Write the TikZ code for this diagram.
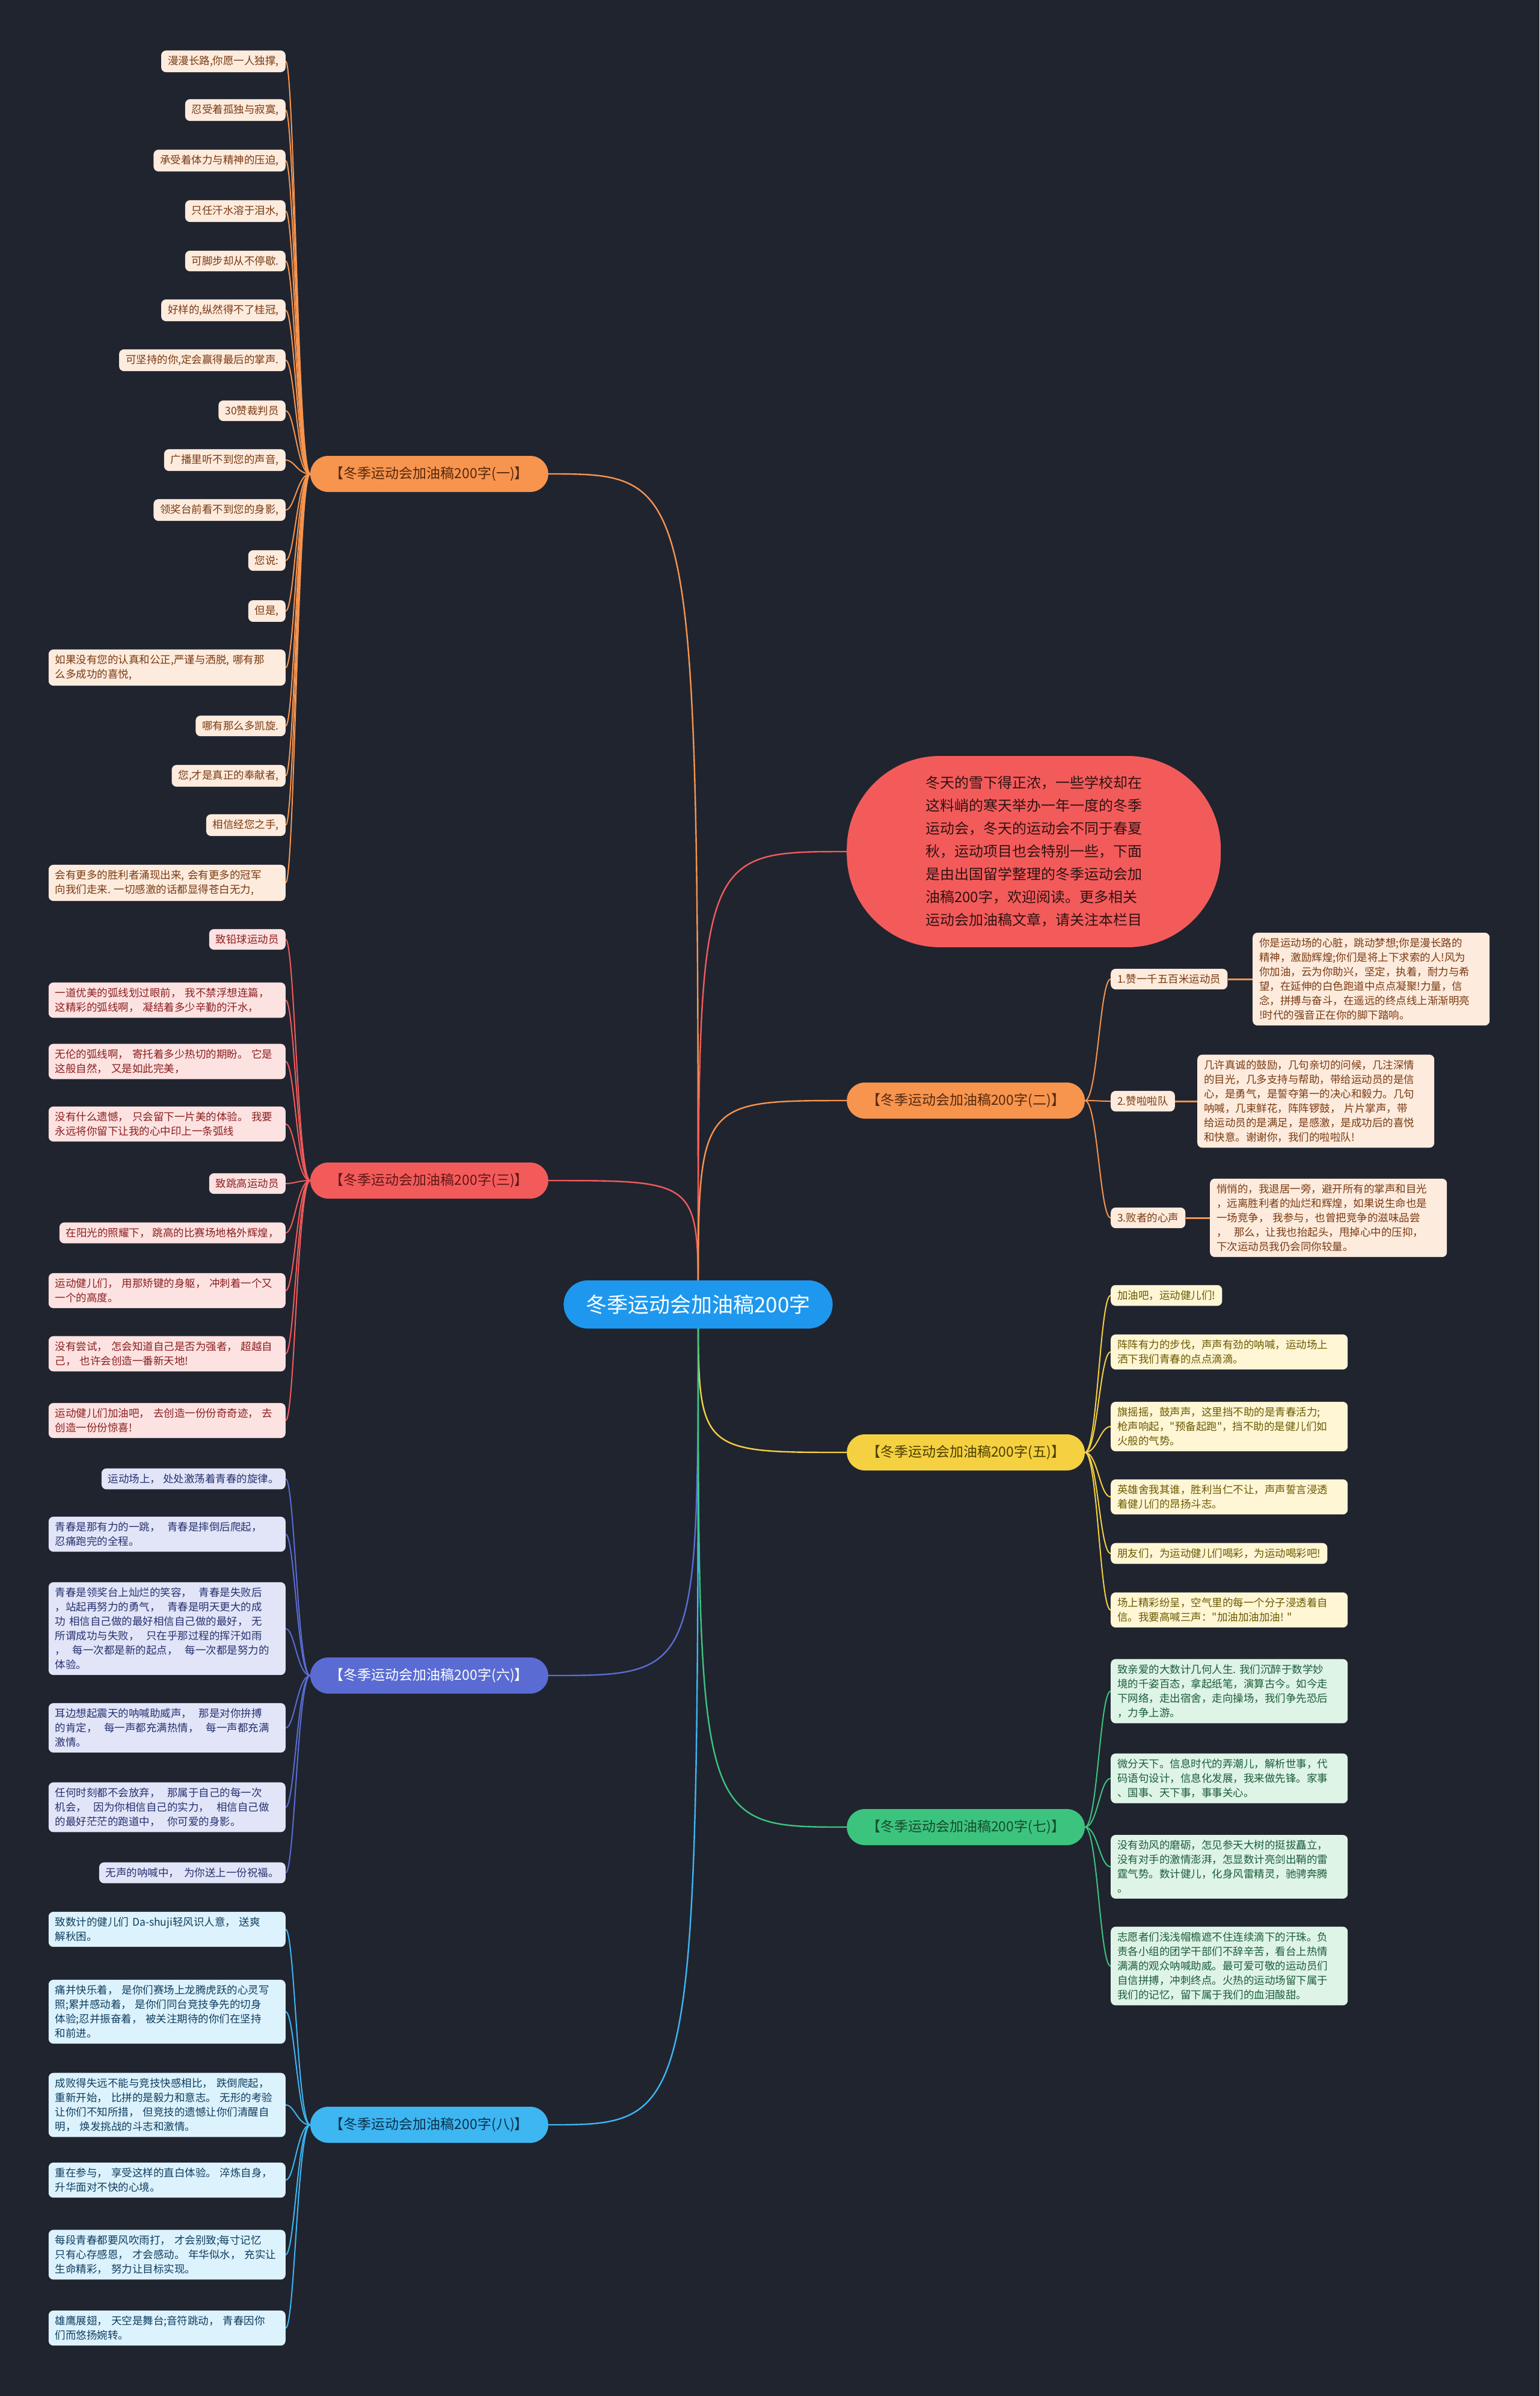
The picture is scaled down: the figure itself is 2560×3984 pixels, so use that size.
\documentclass[tikz,border=0pt]{standalone}
\usepackage{fontspec}
\newfontfamily\cjk{Noto Sans CJK SC}
\usetikzlibrary{calc}

\definecolor{fond}{HTML}{20242F}
\definecolor{bleu}{HTML}{1E98EE}
\definecolor{or}{HTML}{F7944E}\definecolor{orfond}{HTML}{FDEBDD}\definecolor{ortexte}{HTML}{7A3A12}
\definecolor{ro}{HTML}{F35B5B}\definecolor{rofond}{HTML}{FDE2E2}\definecolor{rotexte}{HTML}{8B1E1E}
\definecolor{vi}{HTML}{5A6CD3}\definecolor{vifond}{HTML}{E2E5F8}\definecolor{vitexte}{HTML}{26316F}
\definecolor{ci}{HTML}{3DB6F2}\definecolor{cifond}{HTML}{DCF2FD}\definecolor{citexte}{HTML}{0F3D5E}
\definecolor{ja}{HTML}{F5D040}\definecolor{jafond}{HTML}{FEF6D5}\definecolor{jatexte}{HTML}{6B5A00}
\definecolor{ve}{HTML}{3CC47E}\definecolor{vefond}{HTML}{DEF4E6}\definecolor{vetexte}{HTML}{1C5C3A}

\pgfdeclarelayer{arriere}
\pgfdeclarelayer{liens}
\pgfsetlayers{arriere,liens,main}

\tikzset{
	racine/.style={fill=bleu, text=white, rounded corners=40pt, minimum height=80pt, inner xsep=37pt, inner ysep=0pt, font=\cjk\fontsize{35}{40}\selectfont},
	chapeau/.style={fill=ro, text=black!80!ro, rounded corners=155pt, minimum width=622pt, minimum height=318pt, align=left, font=\cjk\fontsize{24}{38}\selectfont},
	branche/.style 2 args={fill=#1, text=#2, rounded corners=30pt, minimum height=60pt, inner xsep=33pt, inner ysep=0pt, font=\cjk\fontsize{23}{28}\selectfont},
	feuille/.style={fill=#1fond, text=#1texte, rounded corners=8pt, inner xsep=11pt, inner ysep=9pt, font=\cjk\fontsize{17.5}{24}\selectfont},
	bloc/.style={text width=372pt, align=left},
	lien/.style={draw=#1, line width=2pt},
	tige/.style={draw=#1, line width=2.4pt},
}

\begin{document}
\begin{tikzpicture}[x=1pt, y=-1pt]
	\begin{pgfonlayer}{arriere}
		\fill[fond] (0,0) rectangle (2560,3984);
	\end{pgfonlayer}
	
	% centre
	\node[racine] (root) at (1161,2169) {冬季运动会加油稿200字};
	
	% branches gauche
	\node[branche={or}{ortexte!70!black}, anchor=east] (h1) at (912,788) {【冬季运动会加油稿200字(一)】};
	\node[branche={ro}{rotexte!70!black}, anchor=east] (h3) at (912,1963) {【冬季运动会加油稿200字(三)】};
	\node[branche={vi}{white}, anchor=east] (h6) at (912,2786) {【冬季运动会加油稿200字(六)】};
	\node[branche={ci}{citexte!80!black}, anchor=east] (h8) at (912,3533) {【冬季运动会加油稿200字(八)】};
	
	% branches droite
	\node[chapeau, anchor=west] (intro) at (1408,1416) {冬天的雪下得正浓，一些学校却在\\这料峭的寒天举办一年一度的冬季\\运动会，冬天的运动会不同于春夏\\秋，运动项目也会特别一些，下面\\是由出国留学整理的冬季运动会加\\油稿200字，欢迎阅读。更多相关\\运动会加油稿文章，请关注本栏目};
	\node[branche={or}{ortexte!70!black}, anchor=west] (h2) at (1408,1830) {【冬季运动会加油稿200字(二)】};
	\node[branche={ja}{jatexte!70!black}, anchor=west] (h5) at (1408,2415) {【冬季运动会加油稿200字(五)】};
	\node[branche={ve}{vetexte!80!black}, anchor=west] (h7) at (1408,3038) {【冬季运动会加油稿200字(七)】};
	
	% feuilles (一)
	\node[feuille=or, anchor=east] (l1-1) at (475,102) {漫漫长路,你愿一人独撑,};
	\node[feuille=or, anchor=east] (l1-2) at (475,183) {忍受着孤独与寂寞,};
	\node[feuille=or, anchor=east] (l1-3) at (475,267) {承受着体力与精神的压迫,};
	\node[feuille=or, anchor=east] (l1-4) at (475,351) {只任汗水溶于泪水,};
	\node[feuille=or, anchor=east] (l1-5) at (475,434) {可脚步却从不停歇.};
	\node[feuille=or, anchor=east] (l1-6) at (475,516) {好样的,纵然得不了桂冠,};
	\node[feuille=or, anchor=east] (l1-7) at (475,599) {可坚持的你,定会赢得最后的掌声.};
	\node[feuille=or, anchor=east] (l1-8) at (475,683) {30赞裁判员};
	\node[feuille=or, anchor=east] (l1-9) at (475,765) {广播里听不到您的声音,};
	\node[feuille=or, anchor=east] (l1-10) at (475,848) {领奖台前看不到您的身影,};
	\node[feuille=or, anchor=east] (l1-11) at (475,932) {您说:};
	\node[feuille=or, anchor=east] (l1-12) at (475,1016) {但是,};
	\node[feuille=or, bloc, anchor=east] (l1-13) at (475,1110) {如果没有您的认真和公正,严谨与洒脱,~哪有那\\么多成功的喜悦,};
	\node[feuille=or, anchor=east] (l1-14) at (475,1207) {哪有那么多凯旋.};
	\node[feuille=or, anchor=east] (l1-15) at (475,1290) {您,才是真正的奉献者,};
	\node[feuille=or, anchor=east] (l1-16) at (475,1372) {相信经您之手,};
	\node[feuille=or, bloc, anchor=east] (l1-17) at (475,1468) {会有更多的胜利者涌现出来,~会有更多的冠军\\向我们走来.~一切感激的话都显得苍白无力,};
	
	% feuilles (三)
	\node[feuille=ro, anchor=east] (l3-1) at (475,1562) {致铅球运动员};
	\node[feuille=ro, bloc, anchor=east] (l3-2) at (475,1663) {一道优美的弧线划过眼前，~我不禁浮想连篇，\\这精彩的弧线啊，~凝结着多少辛勤的汗水，};
	\node[feuille=ro, bloc, anchor=east] (l3-3) at (475,1765) {无伦的弧线啊，~寄托着多少热切的期盼。~它是\\这般自然，~又是如此完美，};
	\node[feuille=ro, bloc, anchor=east] (l3-4) at (475,1869) {没有什么遗憾，~只会留下一片美的体验。~我要\\永远将你留下让我的心中印上一条弧线};
	\node[feuille=ro, anchor=east] (l3-5) at (475,1968) {致跳高运动员};
	\node[feuille=ro, anchor=east] (l3-6) at (475,2050) {在阳光的照耀下，~跳高的比赛场地格外辉煌，};
	\node[feuille=ro, bloc, anchor=east] (l3-7) at (475,2146) {运动健儿们，~用那矫键的身躯，~冲刺着一个又\\一个的高度。};
	\node[feuille=ro, bloc, anchor=east] (l3-8) at (475,2251) {没有尝试，~怎会知道自己是否为强者，~超越自\\己，~也许会创造一番新天地!};
	\node[feuille=ro, bloc, anchor=east] (l3-9) at (475,2362) {运动健儿们加油吧，~去创造一份份奇奇迹，~去\\创造一份份惊喜!};
	
	% feuilles (六)
	\node[feuille=vi, anchor=east] (l6-1) at (475,2459) {运动场上，~处处激荡着青春的旋律。};
	\node[feuille=vi, bloc, anchor=east] (l6-2) at (475,2551) {青春是那有力的一跳，~~青春是摔倒后爬起，\\忍痛跑完的全程。};
	\node[feuille=vi, bloc, anchor=east] (l6-3) at (475,2708) {青春是领奖台上灿烂的笑容，~~青春是失败后\\，站起再努力的勇气，~~青春是明天更大的成\\功~相信自己做的最好相信自己做的最好，~无\\所谓成功与失败，~~只在乎那过程的挥汗如雨\\，~~每一次都是新的起点，~~每一次都是努力的\\体验。};
	\node[feuille=vi, bloc, anchor=east] (l6-4) at (475,2873) {耳边想起震天的呐喊助威声，~~那是对你拚搏\\的肯定，~~每一声都充满热情，~~每一声都充满\\激情。};
	\node[feuille=vi, bloc, anchor=east] (l6-5) at (475,3005) {任何时刻都不会放弃，~~那属于自己的每一次\\机会，~~因为你相信自己的实力，~~相信自己做\\的最好茫茫的跑道中，~~你可爱的身影。};
	\node[feuille=vi, anchor=east] (l6-6) at (475,3114) {无声的呐喊中，~~为你送上一份祝福。};
	
	% feuilles (八)
	\node[feuille=ci, bloc, anchor=east] (l8-1) at (475,3208) {致数计的健儿们~Da-shuji轻风识人意，~送爽\\解秋困。};
	\node[feuille=ci, bloc, anchor=east] (l8-2) at (475,3345) {痛并快乐着，~是你们赛场上龙腾虎跃的心灵写\\照;累并感动着，~是你们同台竞技争先的切身\\体验;忍并振奋着，~被关注期待的你们在坚持\\和前进。};
	\node[feuille=ci, bloc, anchor=east] (l8-3) at (475,3500) {成败得失远不能与竞技快感相比，~跌倒爬起，\\重新开始，~比拼的是毅力和意志。~无形的考验\\让你们不知所措，~但竞技的遗憾让你们清醒自\\明，~焕发挑战的斗志和激情。};
	\node[feuille=ci, bloc, anchor=east] (l8-4) at (475,3625) {重在参与，~享受这样的直白体验。~淬炼自身，\\升华面对不快的心境。};
	\node[feuille=ci, bloc, anchor=east] (l8-5) at (475,3749) {每段青春都要风吹雨打，~才会别致;每寸记忆\\只有心存感恩，~才会感动。~年华似水，~充实让\\生命精彩，~努力让目标实现。};
	\node[feuille=ci, bloc, anchor=east] (l8-6) at (475,3871) {雄鹰展翅，~天空是舞台;音符跳动，~青春因你\\们而悠扬婉转。};
	
	% (二) : sous-branches et textes
	\node[feuille=or, anchor=west] (s2-1) at (1847,1628) {1.赞一千五百米运动员};
	\node[feuille=or, anchor=west] (s2-2) at (1847,1831) {2.赞啦啦队};
	\node[feuille=or, anchor=west] (s2-3) at (1847,2025) {3.败者的心声};
	\node[feuille=or, bloc, anchor=west] (l2-1) at (2083,1628) {你是运动场的心脏，跳动梦想;你是漫长路的\\精神，激励辉煌;你们是将上下求索的人!风为\\你加油，云为你助兴，坚定，执着，耐力与希\\望，在延伸的白色跑道中点点凝聚!力量，信\\念，拼搏与奋斗，在遥远的终点线上渐渐明亮\\!时代的强音正在你的脚下踏响。};
	\node[feuille=or, bloc, anchor=west] (l2-2) at (1991,1831) {几许真诚的鼓励，几句亲切的问候，几注深情\\的目光，几多支持与帮助，带给运动员的是信\\心，是勇气，是誓夺第一的决心和毅力。几句\\呐喊，几束鲜花，阵阵锣鼓，~片片掌声，带\\给运动员的是满足，是感激，是成功后的喜悦\\和快意。谢谢你，我们的啦啦队!};
	\node[feuille=or, bloc, anchor=west] (l2-3) at (2012,2025) {悄悄的，我退居一旁，避开所有的掌声和目光\\，远离胜利者的灿烂和辉煌，如果说生命也是\\一场竞争，~我参与，也曾把竞争的滋味品尝\\，~~那么，让我也抬起头，甩掉心中的压抑，\\下次运动员我仍会同你较量。};
	
	% feuilles (五)
	\node[feuille=ja, anchor=west] (l5-1) at (1847,2154) {加油吧，运动健儿们!};
	\node[feuille=ja, bloc, anchor=west] (l5-2) at (1847,2248) {阵阵有力的步伐，声声有劲的呐喊，运动场上\\洒下我们青春的点点滴滴。};
	\node[feuille=ja, bloc, anchor=west] (l5-3) at (1847,2372) {旗摇摇，鼓声声，这里挡不助的是青春活力;\\枪声响起，"预备起跑"，挡不助的是健儿们如\\火般的气势。};
	\node[feuille=ja, bloc, anchor=west] (l5-4) at (1847,2489) {英雄舍我其谁，胜利当仁不让，声声誓言浸透\\着健儿们的昂扬斗志。};
	\node[feuille=ja, anchor=west] (l5-5) at (1847,2583) {朋友们，为运动健儿们喝彩，为运动喝彩吧!};
	\node[feuille=ja, bloc, anchor=west] (l5-6) at (1847,2677) {场上精彩纷呈，空气里的每一个分子浸透着自\\信。我要高喊三声："加油加油加油!~"};
	
	% feuilles (七)
	\node[feuille=ve, bloc, anchor=west] (l7-1) at (1847,2812) {致亲爱的大数计几何人生.~我们沉醉于数学妙\\境的千姿百态，拿起纸笔，演算古今。如今走\\下网络，走出宿舍，走向操场，我们争先恐后\\，力争上游。};
	\node[feuille=ve, bloc, anchor=west] (l7-2) at (1847,2957) {微分天下。信息时代的弄潮儿，解析世事，代\\码语句设计，信息化发展，我来做先锋。家事\\、国事、天下事，事事关心。};
	\node[feuille=ve, bloc, anchor=west] (l7-3) at (1847,3104) {没有劲风的磨砺，怎见参天大树的挺拔矗立，\\没有对手的激情澎湃，怎显数计亮剑出鞘的雷\\霆气势。数计健儿，化身风雷精灵，驰骋奔腾\\。};
	\node[feuille=ve, bloc, anchor=west] (l7-4) at (1847,3269) {志愿者们浅浅帽檐遮不住连续滴下的汗珠。负\\责各小组的团学干部们不辞辛苦，看台上热情\\满满的观众呐喊助威。最可爱可敬的运动员们\\自信拼搏，冲刺终点。火热的运动场留下属于\\我们的记忆，留下属于我们的血泪酸甜。};
	
	\begin{pgfonlayer}{liens}
		% tiges depuis le centre
		\draw[tige=or] (root.center) .. controls (root.center |- h1.east) .. (h1.east);
		\draw[tige=ro] (root.center) .. controls (root.center |- h3.east) .. (h3.east);
		\draw[tige=vi] (root.center) .. controls (root.center |- h6.east) .. (h6.east);
		\draw[tige=ci] (root.center) .. controls (root.center |- h8.east) .. (h8.east);
		\draw[tige=ro] (root.center) .. controls (root.center |- intro.west) .. (intro.west);
		\draw[tige=or] (root.center) .. controls (root.center |- h2.west) .. (h2.west);
		\draw[tige=ja] (root.center) .. controls (root.center |- h5.west) .. (h5.west);
		\draw[tige=ve] (root.center) .. controls (root.center |- h7.west) .. (h7.west);
		
		% liens vers les feuilles
		\foreach \i in {1,...,17}
			\draw[lien=or] (h1.west) .. controls ([xshift=-21pt]h1.west) and ([xshift=15pt]l1-\i.east) .. (l1-\i.east);
		\foreach \i in {1,...,9}
			\draw[lien=ro] (h3.west) .. controls ([xshift=-21pt]h3.west) and ([xshift=15pt]l3-\i.east) .. (l3-\i.east);
		\foreach \i in {1,...,6}
			\draw[lien=vi] (h6.west) .. controls ([xshift=-21pt]h6.west) and ([xshift=15pt]l6-\i.east) .. (l6-\i.east);
		\foreach \i in {1,...,6}
			\draw[lien=ci] (h8.west) .. controls ([xshift=-21pt]h8.west) and ([xshift=15pt]l8-\i.east) .. (l8-\i.east);
		\foreach \i in {1,...,3}{
			\draw[lien=or] (h2.east) .. controls ([xshift=21pt]h2.east) and ([xshift=-18pt]s2-\i.west) .. (s2-\i.west);
			\draw[or, line width=3pt] (s2-\i.east) -- (l2-\i.west);
		}
		\foreach \i in {1,...,6}
			\draw[lien=ja] (h5.east) .. controls ([xshift=21pt]h5.east) and ([xshift=-18pt]l5-\i.west) .. (l5-\i.west);
		\foreach \i in {1,...,4}
			\draw[lien=ve] (h7.east) .. controls ([xshift=21pt]h7.east) and ([xshift=-18pt]l7-\i.west) .. (l7-\i.west);
	\end{pgfonlayer}
\end{tikzpicture}
\end{document}
